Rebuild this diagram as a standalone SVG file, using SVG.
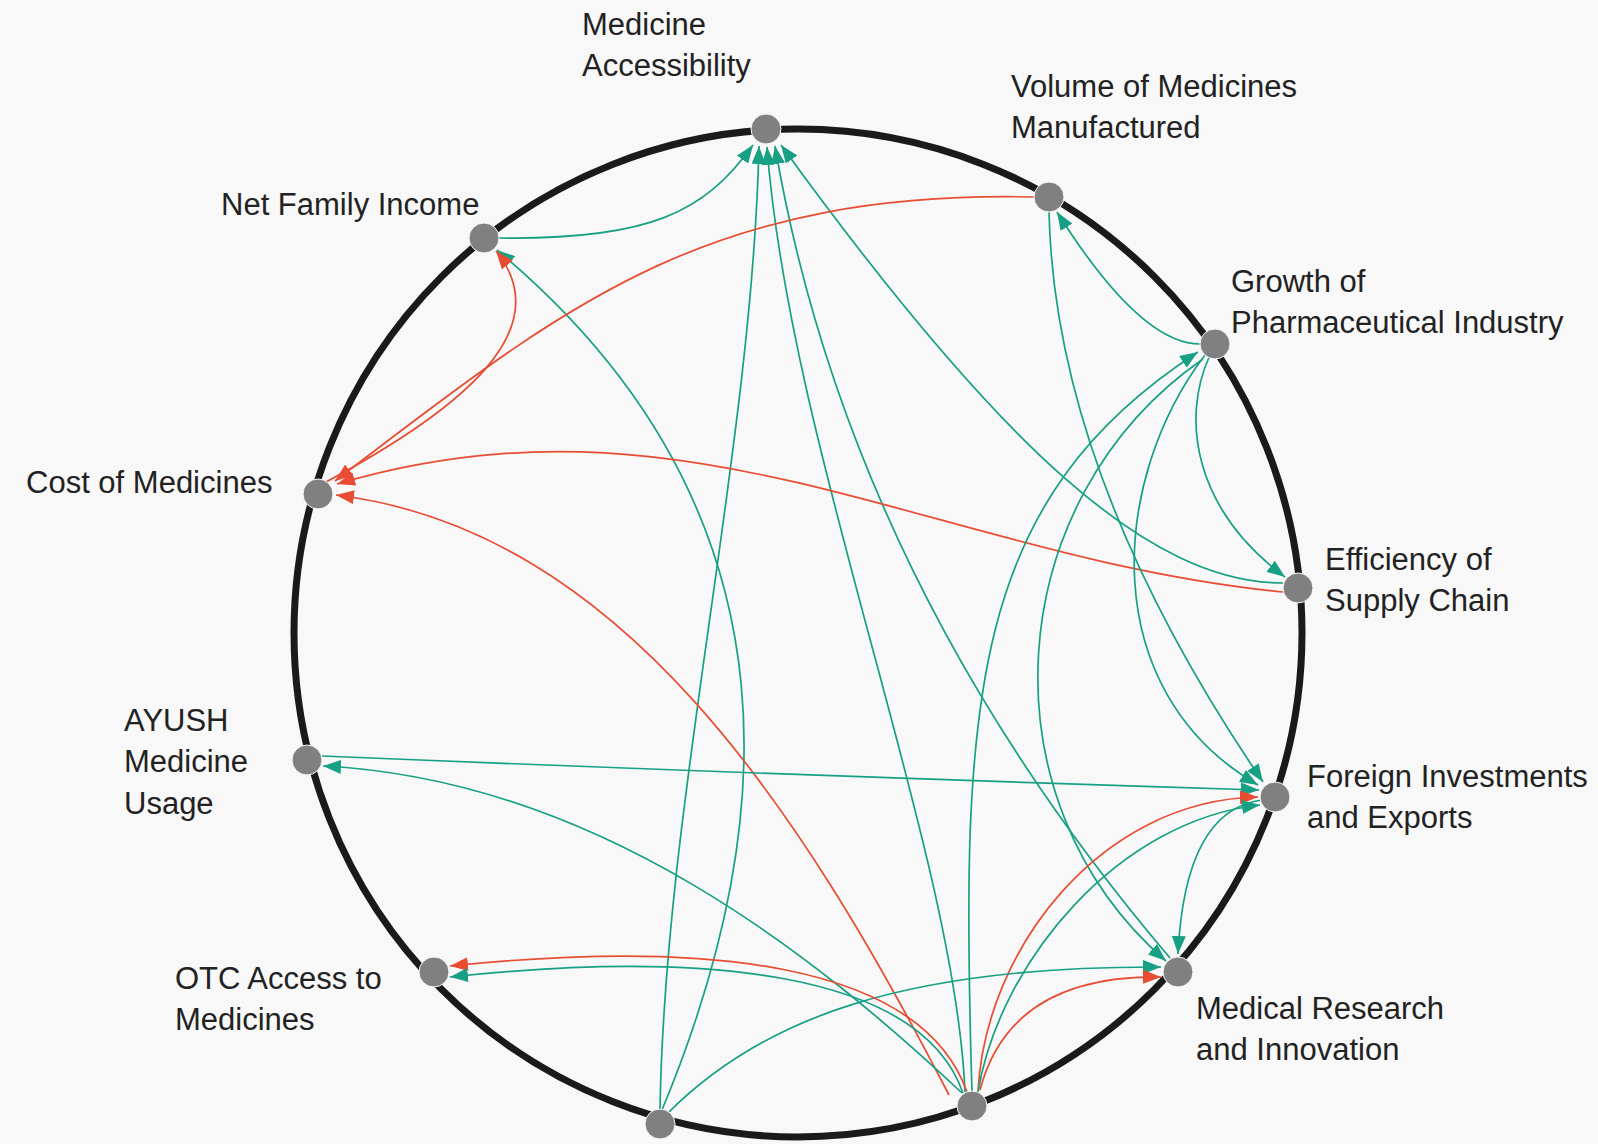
<svg xmlns="http://www.w3.org/2000/svg" width="1598" height="1144" viewBox="0 0 1598 1144">
<style>
.lbl{font-family:"Liberation Sans",Arial,sans-serif;font-size:31px;fill:#222}
.e{fill:none;stroke-width:1.7}
.t{stroke:#17a084}
.r{stroke:#e84c32}
.node{fill:#808080;stroke:#f8f8f8;stroke-width:1}
</style>
<defs>
<marker id="at" markerUnits="userSpaceOnUse" markerWidth="19" markerHeight="14" refX="18" refY="7" orient="auto"><path d="M0,0 L18,7 L0,14 Z" fill="#17a084"/></marker>
<marker id="ar" markerUnits="userSpaceOnUse" markerWidth="19" markerHeight="14" refX="18" refY="7" orient="auto"><path d="M0,0 L18,7 L0,14 Z" fill="#e84c32"/></marker>
</defs>
<rect width="1598" height="1144" fill="#f8f8f8"/>
<circle cx="798" cy="633" r="504" fill="none" stroke="#1a1a1a" stroke-width="7"/>
<g id="connectors">
<path class="e t" marker-end="url(#at)" d="M499,238 C650,240 705,212 753,145"/>
<path class="e t" marker-end="url(#at)" d="M660,1110 C665,800 752,450 759,146"/>
<path class="e t" marker-end="url(#at)" d="M965,1092 C955,850 790,450 767,147"/>
<path class="e t" marker-end="url(#at)" d="M1170,958 Q849,580 775,146"/>
<path class="e t" marker-end="url(#at)" d="M1283,583 C1150,583 1002,450 781,145"/>
<path class="e t" marker-end="url(#at)" d="M662,1110 C770,850 820,520 497,250"/>
<path class="e r" marker-end="url(#ar)" d="M326,482 C460,410 560,330 496,251"/>
<path class="e r" marker-end="url(#ar)" d="M1034,197 C700,190 560,310 335,481"/>
<path class="e r" marker-end="url(#ar)" d="M1283,592 C933,557 690,380 337,484"/>
<path class="e r" marker-end="url(#ar)" d="M949,1095 C800,807 620,530 336,495"/>
<path class="e t" marker-end="url(#at)" d="M1200,344 Q1140,344 1057,212"/>
<path class="e t" marker-end="url(#at)" d="M972,1092 C960,700 970,500 1198,352"/>
<path class="e t" marker-end="url(#at)" d="M1210,355 C1180,420 1195,510 1285,577"/>
<path class="e t" marker-end="url(#at)" d="M1205,355 C1110,480 1095,690 1258,785"/>
<path class="e t" marker-end="url(#at)" d="M1203,359 C1000,500 980,800 1166,961"/>
<path class="e t" marker-end="url(#at)" d="M1049,212 Q1055,477 1263,782"/>
<path class="e t" marker-end="url(#at)" d="M322,756 Q780,775 1259,790"/>
<path class="e r" marker-end="url(#ar)" d="M978,1092 C985,950 1100,800 1258,797"/>
<path class="e t" marker-end="url(#at)" d="M978,1092 C1000,960 1120,820 1260,805"/>
<path class="e t" marker-end="url(#at)" d="M1262,800 Q1185,810 1178,954"/>
<path class="e t" marker-end="url(#at)" d="M667,1114 C760,1020 900,966 1161,967"/>
<path class="e r" marker-end="url(#ar)" d="M980,1090 Q1010,975 1161,977"/>
<path class="e t" marker-end="url(#at)" d="M962,1093 C820,960 600,780 323,766"/>
<path class="e r" marker-end="url(#ar)" d="M967,1092 C920,960 700,940 450,966"/>
<path class="e t" marker-end="url(#at)" d="M963,1093 C920,970 700,950 450,977"/>
</g>
<g id="node-medicine-accessibility"><circle class="node" cx="766" cy="129" r="15"/><text class="lbl" x="582" y="35">Medicine</text><text class="lbl" x="582" y="76">Accessibility</text></g>
<g id="node-volume"><circle class="node" cx="1049" cy="197" r="15"/><text class="lbl" x="1011" y="97">Volume of Medicines</text><text class="lbl" x="1011" y="138">Manufactured</text></g>
<g id="node-net-family-income"><circle class="node" cx="484" cy="238" r="15"/><text class="lbl" x="221" y="215">Net Family Income</text></g>
<g id="node-growth"><circle class="node" cx="1215" cy="344" r="15"/><text class="lbl" x="1231" y="292">Growth of</text><text class="lbl" x="1231" y="333">Pharmaceutical Industry</text></g>
<g id="node-cost"><circle class="node" cx="318" cy="494" r="15"/><text class="lbl" x="26" y="493">Cost of Medicines</text></g>
<g id="node-efficiency"><circle class="node" cx="1298" cy="588" r="15"/><text class="lbl" x="1325" y="570">Efficiency of</text><text class="lbl" x="1325" y="611">Supply Chain</text></g>
<g id="node-ayush"><circle class="node" cx="307" cy="760" r="15"/><text class="lbl" x="124" y="731">AYUSH</text><text class="lbl" x="124" y="772">Medicine</text><text class="lbl" x="124" y="814">Usage</text></g>
<g id="node-foreign"><circle class="node" cx="1275" cy="797" r="15"/><text class="lbl" x="1307" y="787">Foreign Investments</text><text class="lbl" x="1307" y="828">and Exports</text></g>
<g id="node-medical-research"><circle class="node" cx="1178" cy="972" r="15"/><text class="lbl" x="1196" y="1019">Medical Research</text><text class="lbl" x="1196" y="1060">and Innovation</text></g>
<g id="node-otc"><circle class="node" cx="434" cy="972" r="15"/><text class="lbl" x="175" y="989">OTC Access to</text><text class="lbl" x="175" y="1030">Medicines</text></g>
<g id="node-bottom-1"><circle class="node" cx="660" cy="1124" r="15"/></g>
<g id="node-bottom-2"><circle class="node" cx="972" cy="1106" r="15"/></g>
</svg>
